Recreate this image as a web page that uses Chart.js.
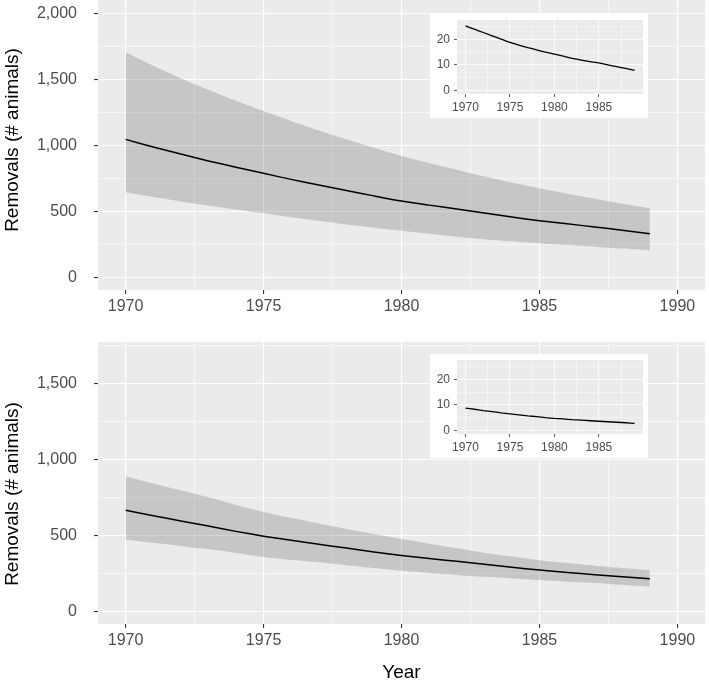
<!DOCTYPE html>
<html>
<head>
<meta charset="utf-8">
<script src="https://cdn.jsdelivr.net/npm/chart.js@4.4.1/dist/chart.umd.min.js"></script>
<style>
  body { margin: 0; background: #fff; }
  #wrap { position: relative; width: 709px; height: 688px; }
  canvas { position: absolute; display: block; }
</style>
</head>
<body>
<div id="wrap">
  <canvas id="graficoSopra" width="709" height="320" style="left:0;top:0"></canvas>
  <canvas id="graficoSotto" width="709" height="368" style="left:0;top:320px"></canvas>
  <canvas id="insetSopra" width="218" height="104" style="left:430px;top:14px;z-index:2"></canvas>
  <canvas id="insetSotto" width="218" height="104" style="left:430px;top:354px;z-index:2"></canvas>
</div>
<script>
// anni
const anni = [1970, 1971, 1972, 1973, 1974, 1975, 1976, 1977, 1978, 1979,
              1980, 1981, 1982, 1983, 1984, 1985, 1986, 1987, 1988, 1989];

// pannello sopra
const mediaSopra = [1045, 988, 934, 882, 834, 788, 742, 699, 658, 617,
                    578, 547, 517, 487, 457, 429, 405, 382, 356, 330];
const supSopra = [1705, 1603, 1509, 1421, 1338, 1260, 1185, 1113, 1046, 981,
                  919, 866, 815, 764, 718, 674, 633, 596, 559, 523];
const infSopra = [644, 608, 575, 544, 513, 485, 455, 428, 400, 376,
                  353, 330, 308, 289, 273, 258, 244, 232, 218, 205];
const insetSopraValori = [25.3, 24.0, 22.7, 21.4, 20.1, 18.8, 17.8, 16.8, 15.9, 15.0,
                          14.2, 13.4, 12.6, 11.9, 11.3, 10.8, 10.0, 9.3, 8.6, 7.9];

// pannello sotto
const mediaSotto = [666, 630, 596, 562, 527, 495, 468, 442, 417, 391,
                    368, 348, 330, 311, 291, 272, 256, 242, 228, 215];
const supSotto = [890, 842, 797, 751, 701, 655, 616, 579, 543, 510,
                  477, 446, 416, 387, 361, 337, 318, 301, 286, 272];
const infSotto = [474, 452, 431, 409, 385, 359, 340, 323, 304, 285,
                  267, 253, 240, 228, 217, 206, 196, 187, 175, 162];
const insetSottoValori = [8.7, 8.3, 7.8, 7.4, 6.9, 6.5, 6.1, 5.7, 5.4, 5.0,
                          4.7, 4.5, 4.2, 4.0, 3.8, 3.6, 3.4, 3.2, 3.0, 2.8];

// tacche
const taccheX = [1970, 1972.5, 1975, 1977.5, 1980, 1982.5, 1985, 1987.5, 1990];
const taccheYSopra = [0, 250, 500, 750, 1000, 1250, 1500, 1750, 2000];
const taccheYSotto = [0, 250, 500, 750, 1000, 1250, 1500, 1750];
const taccheXInset = [1970, 1972.5, 1975, 1977.5, 1980, 1982.5, 1985, 1987.5];
const taccheYInset = [0, 5, 10, 15, 20, 25];

const punti = (valori) => valori.map((v, i) => ({ x: anni[i], y: v }));

const fonte = 'Liberation Sans, Arial, Helvetica, sans-serif';

const sfondoPannello = {
  id: 'sfondoPannello',
  beforeDraw(chart) {
    const { ctx, chartArea: a } = chart;
    ctx.save();
    ctx.fillStyle = '#ffffff';
    ctx.fillRect(0, 0, chart.width, chart.height);
    ctx.fillStyle = '#EBEBEB';
    ctx.fillRect(a.left, a.top, a.right - a.left, a.bottom - a.top);
    ctx.restore();
  },
  // titolo asse y, centrato dove sta nel grafico originale
  afterDraw(chart, args, opts) {
    if (!opts || !opts.testo) return;
    const ctx = chart.ctx;
    ctx.save();
    ctx.translate(12.5, opts.y);
    ctx.rotate(-Math.PI / 2);
    ctx.textAlign = 'center';
    ctx.textBaseline = 'middle';
    ctx.fillStyle = '#000000';
    ctx.font = '19px ' + fonte;
    ctx.fillText(opts.testo, 0, 0);
    ctx.restore();
  }
};

function asse(cfg) {
  return {
    type: 'linear',
    min: cfg.min,
    max: cfg.max,
    afterBuildTicks: (s) => { s.ticks = cfg.tacche.map(v => ({ value: v })); },
    afterFit: (s) => {
      if (cfg.larghezza) s.width = cfg.larghezza;
      if (cfg.altezza) s.height = cfg.altezza;
      s.paddingTop = 0; s.paddingBottom = 0; s.paddingLeft = 0; s.paddingRight = 0;
    },
    border: { display: false },
    grid: {
      color: '#ffffff',
      lineWidth: (c) => (c.tick && cfg.maggiore(c.tick.value)) ? cfg.spessore : cfg.spessore / 2,
      tickColor: (c) => (c.tick && cfg.maggiore(c.tick.value)) ? '#333333' : 'rgba(0,0,0,0)',
      tickWidth: cfg.spessore,
      tickLength: cfg.lungTacca,
      drawTicks: true
    },
    ticks: {
      autoSkip: false,
      maxRotation: 0,
      padding: cfg.padding,
      color: '#4D4D4D',
      font: { family: fonte, size: cfg.fontSize },
      callback: (v) => cfg.maggiore(v) ? cfg.etichetta(v) : ''
    },
    title: cfg.titolo ? {
      display: true,
      text: cfg.titolo,
      color: '#000000',
      font: { family: fonte, size: 19 },
      padding: cfg.titoloPadding
    } : { display: false }
  };
}

function disegnaPannello(id, media, sup, inf, opz) {
  const ctx = document.getElementById(id).getContext('2d');
  new Chart(ctx, {
    type: 'line',
    data: {
      datasets: [
        { data: punti(media), borderColor: '#000000', borderWidth: 1.5, pointRadius: 0, fill: false, tension: 0.2 },
        { data: punti(sup), borderWidth: 0, borderColor: 'rgba(0,0,0,0)', pointRadius: 0, fill: '+1',
          backgroundColor: 'rgba(51,51,51,0.2)', tension: 0.2 },
        { data: punti(inf), borderWidth: 0, borderColor: 'rgba(0,0,0,0)', pointRadius: 0, fill: false, tension: 0.2 }
      ]
    },
    options: {
      responsive: false,
      animation: false,
      layout: { padding: opz.padding },
      plugins: {
        legend: { display: false },
        tooltip: { enabled: false },
        sfondoPannello: { testo: 'Removals (# animals)', y: opz.titoloY }
      },
      scales: {
        x: asse(opz.x),
        y: asse(opz.y)
      }
    },
    plugins: [sfondoPannello]
  });
}

function disegnaInset(id, valori) {
  const ctx = document.getElementById(id).getContext('2d');
  new Chart(ctx, {
    type: 'line',
    data: {
      datasets: [
        { data: punti(valori), borderColor: '#000000', borderWidth: 1.3, pointRadius: 0, fill: false, tension: 0.2 }
      ]
    },
    options: {
      responsive: false,
      animation: false,
      layout: { padding: { top: 6, right: 5, left: 0, bottom: 0 } },
      plugins: { legend: { display: false }, tooltip: { enabled: false } },
      scales: {
        x: asse({ min: 1969.05, max: 1989.95, tacche: taccheXInset, altezza: 24, spessore: 0.8,
                  lungTacca: 3, padding: 3, fontSize: 12,
                  maggiore: (v) => v % 5 === 0, etichetta: (v) => String(v) }),
        y: asse({ min: -1.4, max: 27.6, tacche: taccheYInset, larghezza: 27, spessore: 0.8,
                  lungTacca: 3, padding: 4, fontSize: 12,
                  maggiore: (v) => v % 10 === 0, etichetta: (v) => String(v) })
      }
    },
    plugins: [sfondoPannello]
  });
}

const anno = (v) => v % 5 === 0;
const migliaia = (v) => v.toLocaleString('en-US');

disegnaPannello('graficoSopra', mediaSopra, supSopra, infSopra, {
  padding: { top: 0, right: 4, left: 0, bottom: 0 },
  titoloY: 140,
  x: { min: 1969, max: 1991, tacche: taccheX, altezza: 30, spessore: 1.1, lungTacca: 4, padding: 3,
       fontSize: 16, maggiore: anno, etichetta: (v) => String(v) },
  y: { min: -96, max: 2101, tacche: taccheYSopra, larghezza: 98, spessore: 1.1, lungTacca: 4, padding: 17,
       fontSize: 16, maggiore: (v) => v % 500 === 0, etichetta: migliaia }
});

disegnaPannello('graficoSotto', mediaSotto, supSotto, infSotto, {
  padding: { top: 22, right: 4, left: 0, bottom: 0 },
  titoloY: 174,
  x: { min: 1969, max: 1991, tacche: taccheX, altezza: 64, spessore: 1.1, lungTacca: 4, padding: 3,
       fontSize: 16, maggiore: anno, etichetta: (v) => String(v),
       titolo: 'Year', titoloPadding: { top: 0, bottom: 4 } },
  y: { min: -83, max: 1774, tacche: taccheYSotto, larghezza: 98, spessore: 1.1, lungTacca: 4, padding: 17,
       fontSize: 16, maggiore: (v) => v % 500 === 0, etichetta: migliaia }
});

disegnaInset('insetSopra', insetSopraValori);
disegnaInset('insetSotto', insetSottoValori);
</script>
</body>
</html>
